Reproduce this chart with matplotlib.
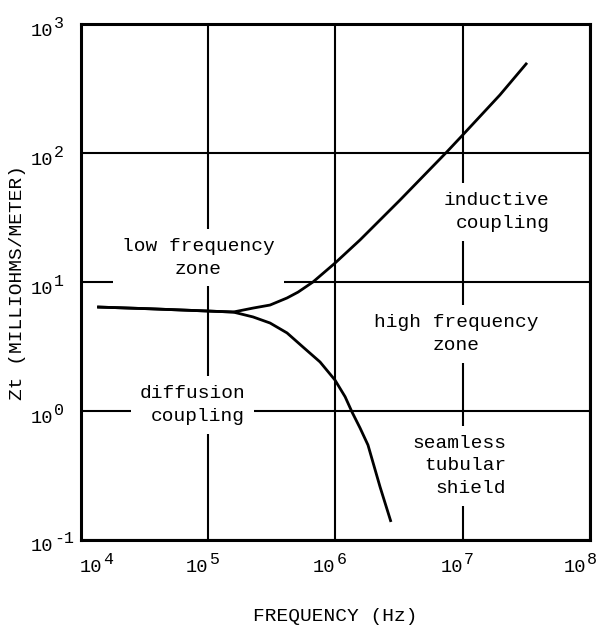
import matplotlib
matplotlib.use("Agg")
import matplotlib.pyplot as plt

# transfer impedance curves
freq_shared = [1.34e4, 3.5e4, 9.8e4, 1.57e5]
zt_shared = [6.4, 6.2, 5.96, 5.85]

freq_inductive = [2.25e5, 3.06e5, 4.16e5, 5.08e5, 6.65e5, 9.9e5, 1.56e6, 3.2e6,
                  7.5e6, 1.0e7, 1.96e7, 3.2e7]
zt_inductive = [6.28, 6.63, 7.52, 8.35, 10.0, 14.0, 21.2, 43.0,
                102.0, 138.0, 282.0, 500.0]

freq_diffusion = [2.25e5, 3.06e5, 4.16e5, 5.56e5, 7.56e5, 9.9e5, 1.19e6, 1.35e6,
                  1.56e6, 1.8e6, 2.24e6, 2.73e6]
zt_diffusion = [5.36, 4.81, 4.03, 3.13, 2.40, 1.74, 1.29, 0.98,
                0.738, 0.545, 0.258, 0.138]

# decade tick exponents
x_exps = [4, 5, 6, 7, 8]
y_exps = [-1, 0, 1, 2, 3]

# zone labels: text, x, y, alignment
zone_labels = ["low frequency\nzone", "diffusion\ncoupling", "inductive\ncoupling",
               "high frequency\nzone", "seamless\ntubular\nshield"]
zone_x = [8.4e4, 7.5e4, 1.84e7, 8.85e6, 9.4e6]
zone_y = [15.4, 1.11, 34.9, 3.95, 0.375]
zone_align = ["center", "right", "right", "center", "right"]

plt.rcParams['font.family'] = ['Liberation Mono', 'DejaVu Sans']

fig = plt.figure(figsize=(6, 6.29), dpi=100)
ax = fig.add_axes([0.135, 0.1415, 0.8483, 0.8203])

ax.set_xscale('log')
ax.set_yscale('log')
ax.set_xlim(1e4, 1e8)
ax.set_ylim(1e-1, 1e3)
ax.minorticks_off()
ax.set_xticks([10.0 ** e for e in x_exps])
ax.set_yticks([10.0 ** e for e in y_exps])
ax.set_xticklabels([])
ax.set_yticklabels([])
ax.tick_params(length=0)

ax.set_axisbelow(True)
ax.grid(True, which='major', color='black', linewidth=1.5)
for sp in ax.spines.values():
    sp.set_linewidth(2.2)

# tick labels drawn by hand so the exponent stays large like the original
for e in x_exps:
    dx = 21 if e == 4 else (-4 if e == 8 else 0)
    ax.annotate('10', xy=(10.0 ** e, 0), xycoords=('data', 'axes fraction'),
                xytext=(dx, -28), textcoords='offset pixels',
                ha='right', va='center', fontsize=13.5, annotation_clip=False)
    ax.annotate(str(e), xy=(10.0 ** e, 0), xycoords=('data', 'axes fraction'),
                xytext=(dx + 1, -20), textcoords='offset pixels',
                ha='left', va='center', fontsize=12, annotation_clip=False)

for e in y_exps:
    ax.annotate('10', xy=(0, 10.0 ** e), xycoords=('axes fraction', 'data'),
                xytext=(-28, -7), textcoords='offset pixels',
                ha='right', va='center', fontsize=13.5, annotation_clip=False)
    ax.annotate(str(e), xy=(0, 10.0 ** e), xycoords=('axes fraction', 'data'),
                xytext=(-27, 1), textcoords='offset pixels',
                ha='left', va='center', fontsize=12, annotation_clip=False)

ax.plot(freq_shared + freq_inductive, zt_shared + zt_inductive,
        color='black', linewidth=2.0, zorder=4, solid_capstyle='butt')
ax.plot(freq_shared + freq_diffusion, zt_shared + zt_diffusion,
        color='black', linewidth=2.0, zorder=4, solid_capstyle='butt')

for label, x, y, al in zip(zone_labels, zone_x, zone_y, zone_align):
    ax.text(x, y, label, ha='center', va='center', multialignment=al,
            fontsize=14, linespacing=1.45, zorder=3,
            bbox=dict(boxstyle='square,pad=0.45', fc='white', ec='none'))

ax.set_xlabel('FREQUENCY (Hz)', fontsize=14)
ax.set_ylabel('Zt (MILLIOHMS/METER)', fontsize=14)
ax.xaxis.set_label_coords(0.5, -0.131)
ax.yaxis.set_label_coords(-0.108, 0.5)

plt.savefig('out.png', dpi=100)
